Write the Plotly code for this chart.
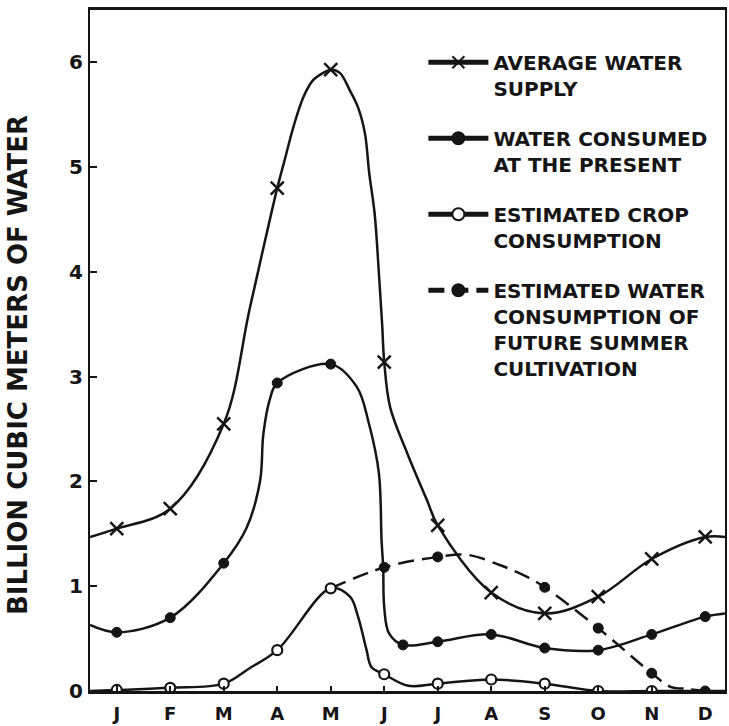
import plotly.graph_objects as go

INK = "#151515"

# ---- axis categories ----
month_labels = ["J", "F", "M", "A", "M", "J", "J", "A", "S", "O", "N", "D"]
month_pos = list(range(12))
y_ticks = [0, 1, 2, 3, 4, 5, 6]
y_title = "BILLION CUBIC METERS OF WATER"

# ---- Average water supply (x markers) ----
supply_mark_x = [0, 1, 2, 3, 4, 5, 6, 7, 8, 9, 10, 11]
supply_mark_y = [1.55, 1.74, 2.55, 4.80, 5.93, 3.14, 1.58, 0.94, 0.74, 0.90, 1.26, 1.47]
supply_curve_x = [-0.5, 2.49, 3.14, 3.30, 3.49, 3.67, 3.86, 4.17, 4.36, 4.51, 4.64,
                  4.72, 4.82, 4.90, 4.96, 5.11, 5.43, 5.80, 11.37]
supply_curve_y = [1.47, 3.66, 5.07, 5.38, 5.67, 5.83, 5.90, 5.90, 5.73, 5.57, 5.32,
                  4.94, 4.56, 3.99, 3.51, 2.71, 2.27, 1.82, 1.47]

# ---- Water consumed at the present (filled dots) ----
present_mark_x = [0, 1, 2, 3, 4, 5.35, 6, 7, 8, 9, 10, 11]
present_mark_y = [0.56, 0.70, 1.22, 2.94, 3.12, 0.44, 0.47, 0.54, 0.41, 0.39, 0.54, 0.71]
present_curve_x = [-0.5, 2.43, 2.68, 2.74, 2.86, 4.49, 4.71, 4.90, 4.95, 4.98, 5.0, 5.09, 11.37]
present_curve_y = [0.63, 1.56, 2.01, 2.45, 2.78, 2.90, 2.56, 2.08, 1.44, 1.18, 0.80, 0.55, 0.74]

# ---- Estimated crop consumption (open circles) ----
crop_mark_x = [0, 1, 2, 3, 4, 5, 6, 7, 8, 9, 10]
crop_mark_y = [0.01, 0.03, 0.07, 0.39, 0.98, 0.16, 0.07, 0.11, 0.07, 0.0, 0.0]
crop_curve_x = [-0.5, 2.49, 4.36, 4.51, 4.67, 4.76, 5.45, 11.37]
crop_curve_y = [0.0, 0.22, 0.90, 0.71, 0.39, 0.23, 0.05, 0.0]

# ---- Estimated water consumption of future summer cultivation (dashed) ----
future_mark_x = [5, 6, 8, 9, 10, 11]
future_mark_y = [1.18, 1.28, 0.99, 0.60, 0.17, 0.0]
future_curve_x = [4.0, 6.55, 7.17, 7.67, 10.35, 10.66]
future_curve_y = [0.98, 1.30, 1.20, 1.09, 0.04, 0.02]

names = [
    "AVERAGE WATER<br>SUPPLY",
    "WATER CONSUMED<br>AT THE PRESENT",
    "ESTIMATED CROP<br>CONSUMPTION",
    "ESTIMATED WATER<br>CONSUMPTION OF<br>FUTURE SUMMER<br>CULTIVATION",
]


def merged(mx, my, cx, cy):
    pts = sorted(list(zip(mx, my)) + list(zip(cx, cy)))
    return [p[0] for p in pts], [p[1] for p in pts]


LW = 2.5
styles = {
    "supply": dict(line=dict(color=INK, width=LW),
                   marker=dict(symbol="x-thin-open", size=13, color=INK,
                               line=dict(color=INK, width=2.5))),
    "present": dict(line=dict(color=INK, width=LW),
                    marker=dict(symbol="circle", size=10, color=INK,
                                line=dict(color=INK, width=1))),
    "crop": dict(line=dict(color=INK, width=LW),
                 marker=dict(symbol="circle", size=10, color="white",
                             line=dict(color=INK, width=2.2))),
    "future": dict(line=dict(color=INK, width=LW, dash="16px,8px"),
                   marker=dict(symbol="circle", size=10, color=INK,
                               line=dict(color=INK, width=1))),
}

series = {
    "supply": (supply_mark_x, supply_mark_y, supply_curve_x, supply_curve_y),
    "present": (present_mark_x, present_mark_y, present_curve_x, present_curve_y),
    "crop": (crop_mark_x, crop_mark_y, crop_curve_x, crop_curve_y),
    "future": (future_mark_x, future_mark_y, future_curve_x, future_curve_y),
}

fig = go.Figure()

# curves
for key in ["future", "crop", "present", "supply"]:
    mx, my, cx, cy = series[key]
    xs, ys = merged(mx, my, cx, cy)
    fig.add_trace(go.Scatter(x=xs, y=ys, mode="lines",
                             line=dict(**styles[key]["line"], shape="spline", smoothing=1.0),
                             showlegend=False, hoverinfo="skip"))

# markers
for key in ["future", "present", "supply", "crop"]:
    mx, my, _, _ = series[key]
    fig.add_trace(go.Scatter(x=mx, y=my, mode="markers",
                             marker=styles[key]["marker"],
                             showlegend=False, hoverinfo="skip"))

# legend entries
for i, key in enumerate(["supply", "present", "crop", "future"]):
    fig.add_trace(go.Scatter(x=[None], y=[None], mode="lines+markers",
                             name=names[i], legendgroup=key,
                             line=styles[key]["line"], marker=styles[key]["marker"]))

fig.add_annotation(text=y_title, textangle=-90, xref="paper", yref="paper",
                   x=-0.113, y=0.479, xanchor="center", yanchor="middle",
                   showarrow=False, font=dict(size=26, weight="bold", color=INK))

fig.update_layout(
    width=729, height=726,
    margin=dict(l=90, r=2, t=10, b=35),
    paper_bgcolor="white", plot_bgcolor="white",
    font=dict(family="DejaVu Sans", color=INK),
    legend=dict(x=0.525, y=0.952, xanchor="left", yanchor="top",
                bgcolor="rgba(0,0,0,0)",
                font=dict(size=20, weight="bold", color=INK),
                traceorder="grouped", tracegroupgap=21, valign="top",
                itemsizing="constant", itemwidth=60),
    xaxis=dict(range=[-0.5, 11.37], tickvals=month_pos, ticktext=month_labels,
               ticks="inside", ticklen=5, tickwidth=2, tickcolor=INK,
               showline=True, linewidth=2.5, linecolor=INK, mirror=True,
               showgrid=False, zeroline=False, ticklabelstandoff=5,
               tickfont=dict(size=18, weight="bold", color=INK)),
    yaxis=dict(range=[0, 6.5], tickvals=y_ticks,
               ticks="inside", ticklen=7, tickwidth=2, tickcolor=INK,
               showline=True, linewidth=2, linecolor=INK, mirror=True,
               showgrid=False, zeroline=False, ticklabelstandoff=1,
               tickfont=dict(size=20, weight="bold", color=INK)),
)

fig.write_html("out.html")
